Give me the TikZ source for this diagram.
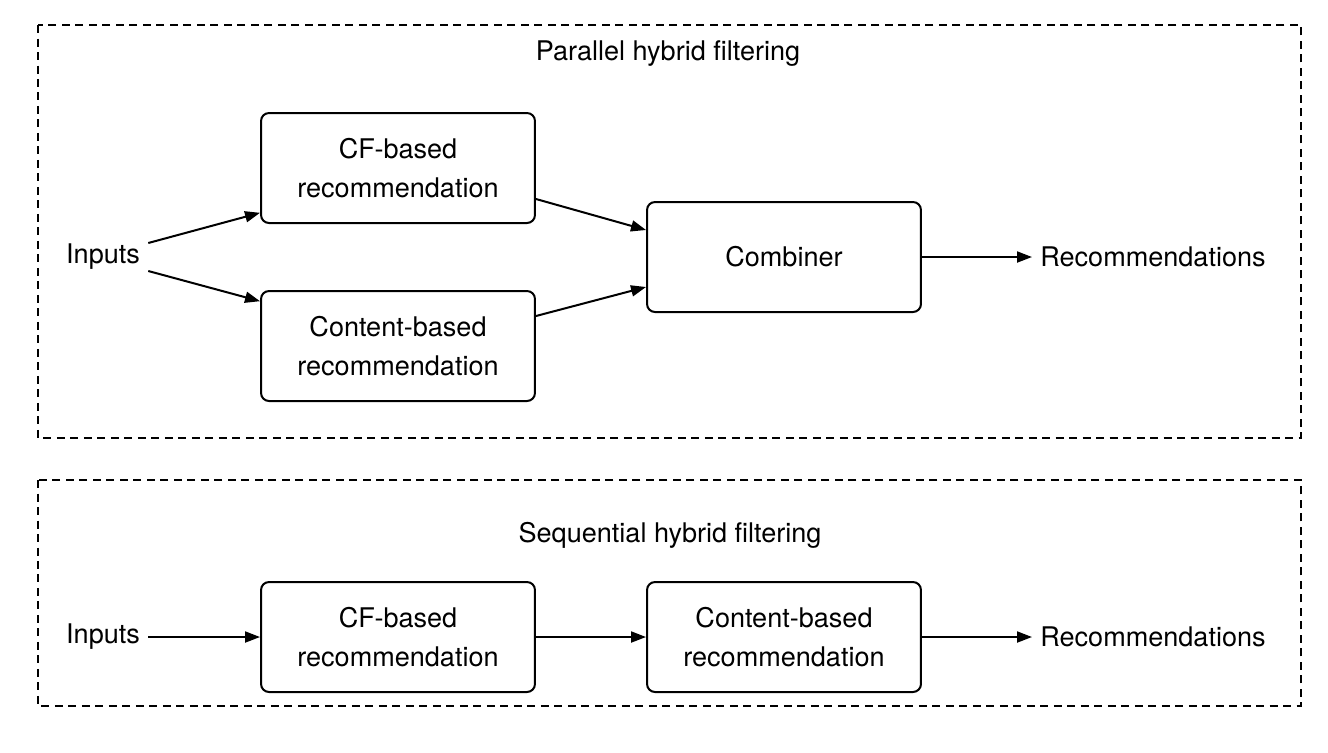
\documentclass[tikz,border=0pt]{standalone}
\usepackage{fontspec}
\setmainfont{TeX Gyre Heros}
\usepackage{tikz}
\usetikzlibrary{calc,arrows.meta}
\tikzset{
	recbox/.style={draw, line width=0.04cm, rounded corners=0.16cm, minimum width=5.48cm, minimum height=2.2cm, align=center},
	plain/.style={inner sep=0.16cm},
	frame/.style={draw, dash pattern=on 0.16cm off 0.11cm, line width=0.03cm},
	flow/.style={-{Triangle[length=0.3cm,width=0.22cm]}, line width=0.04cm}
}

\begin{document}
\begin{tikzpicture}[x=0.02cm, y=-0.02cm, font=\fontsize{15.4}{22.5}\selectfont]
			%%%%% START %%%%%
			
			\useasboundingbox (0, 0) rectangle (1328, 752);
			
			\draw[frame] (38, 25) rectangle (1301, 438);
			\node (partitle) at (668, 54) {Parallel hybrid filtering};
			
			\node[plain] (pinputs) at (103, 257) {Inputs};
			\node[recbox] (pcf) at (398, 168) {CF-based\\recommendation};
			\node[recbox] (pcontent) at (398, 346) {Content-based\\recommendation};
			\node[recbox] (pcomb) at (784, 257) {Combiner};
			\node[plain, anchor=west] (precs) at (1032, 257) {Recommendations};
			
			\draw[flow] ($(pinputs.east)+(0, -14)$) -- ($(pcf.south west)!0.1!(pcf.north west)$);
			\draw[flow] ($(pinputs.east)+(0, 14)$) -- ($(pcontent.north west)!0.1!(pcontent.south west)$);
			\draw[flow] ($(pcf.east)+(0, 31)$) -- ($(pcomb.west)+(0, -27)$);
			\draw[flow] ($(pcontent.east)+(0, -30)$) -- ($(pcomb.west)+(0, 30)$);
			\draw[flow] (pcomb.east) -- (precs.west);
			
			\draw[frame] (38, 480) rectangle (1301, 706);
			\node (seqtitle) at (670, 535) {Sequential hybrid filtering};
			
			\node[plain] (sinputs) at (103, 637) {Inputs};
			\node[recbox] (scf) at (398, 637) {CF-based\\recommendation};
			\node[recbox] (scontent) at (784, 637) {Content-based\\recommendation};
			\node[plain, anchor=west] (srecs) at (1032, 637) {Recommendations};
			
			\draw[flow] (sinputs.east) -- (scf.west);
			\draw[flow] (scf.east) -- (scontent.west);
			\draw[flow] (scontent.east) -- (srecs.west);
			
			%%%%% END %%%%%
\end{tikzpicture}
\end{document}
